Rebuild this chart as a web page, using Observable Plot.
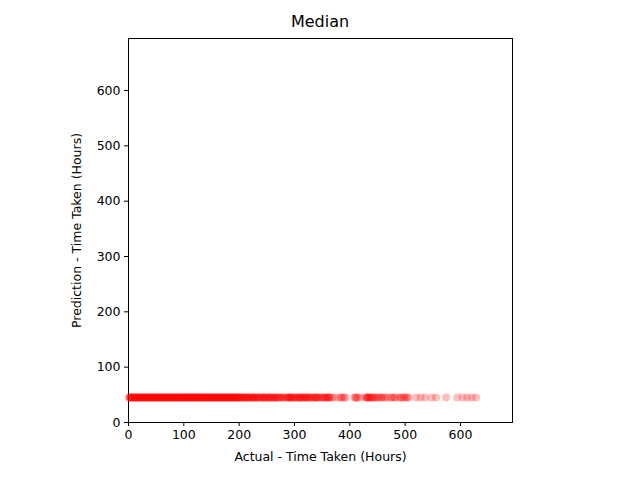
<!DOCTYPE html><html><head><meta charset="utf-8">
<script src="https://cdn.jsdelivr.net/npm/d3@7"></script>
<script src="https://cdn.jsdelivr.net/npm/@observablehq/plot@0.6"></script>
<style>body{margin:0;background:#fff;font-family:"DejaVu Sans",sans-serif}
#t{position:absolute;left:0;width:640px;top:12px;text-align:center;font-size:16px}</style></head><body>
<div id="t">Median</div><div id="c"></div>
<script>
const actualA=[1,3,5,7,9,11,13,15,17,19,21,23,25,27,29,31,33,35,37,39,41,43,45,47,49,51,53,55,57,59,61,63,65,67,69,71,73,75,77,79,81,83,85,87,89,91,93,95,97,99,101,103,105,107,109,111,113,115,117,119,121,123,125,127,129,131,133,135,137,139,141,143,145,147,149,151,153,155,157,159,161,163,165,167,169,171,173,175,177,179,181,183,185,187,189,191,193,195,197,199,201,204,207,210,213,216,219,222,225,228,231,235,238,242,246,250,254,258,262,266,270,275,280,285,290,293,296,302,306,310,314,318,322,326,332,336,340,345,350,356,360,364,372,380,386,392,408,414,420,428,432,436,440,446,452,460,468,476,482,488,494,500,506,520,528,536,548,556,574,594,604,612,620,628];
const actualB=[2,6,10,14,18,22,26,30,34,38,42,46,50,54,58,62,66,70,74,78,82,86,90,94,98,102,106,110,114,118,122,126,130,134,138,142,146,150,154,158,162,166,170,174,178,182,186,190,194,198,202,206,210,214,218,222,226,230,234,240,244,248,252,256,260,264,268,272,278,284,288,292,295,298,304,308,312,316,320,324,328,334,338,342,348,354,358,362,368,384,390,410,430,434,438,444,450,458,464,474,480,492,498,504];
const actualC=[4,12,20,28,36,44,52,60,68,76,84,92,100,108,116,124,132,140,148,156,164,172,180,188,196,205,215,225,235,245,255,265,275,290,300,310,320,330,340,352,362,412,432,442,456];
const actual=[...actualA,...actualB,...actualC];
const predicted=actual.map(()=>45);
const data=actual.map((a,i)=>({a,p:predicted[i]}));
const ticks=[0,100,200,300,400,500,600];
const chart=Plot.plot({width:640,height:480,marginLeft:128,marginRight:128,marginTop:38,marginBottom:58,
style:{fontFamily:"DejaVu Sans",fontSize:"12.5px",color:"#000"},
x:{domain:[0,694]},
y:{domain:[0,694]},
marks:[
Plot.frame({stroke:"#000"}),
Plot.axisX({ticks,tickSize:4,tickPadding:4,fontSize:12.5,label:"Actual - Time Taken (Hours)",labelAnchor:"center",labelArrow:"none",labelOffset:38}),
Plot.axisY({ticks,tickSize:4,tickPadding:4,fontSize:12.5,label:"Prediction - Time Taken (Hours)",labelAnchor:"center",labelArrow:"none",labelOffset:56}),
Plot.dot(data,{x:"a",y:"p",r:4,fill:"red",fillOpacity:0.25,stroke:"none"})
]});
document.getElementById("c").appendChild(chart);
</script></body></html>
